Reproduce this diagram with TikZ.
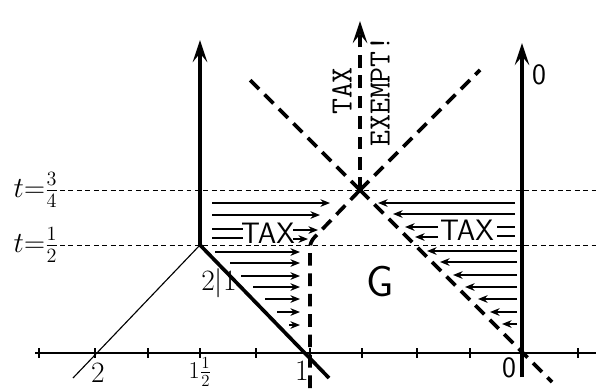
\documentclass[tikz,border=0pt]{standalone}
\usepackage{tikz}
\usetikzlibrary{arrows.meta,positioning}

\begin{document}
\begin{tikzpicture}[
  x=0.025cm, y=-0.025cm,
  every node/.style={align=center, inner sep=1pt},
  axisline/.style={line width=1.2pt},
  tickmark/.style={line width=0.9pt},
  worldline/.style={line width=2.6pt},
  thinline/.style={line width=0.8pt},
  border/.style={line width=2.6pt, dash pattern=on 9pt off 5.5pt},
  level/.style={line width=0.6pt, dash pattern=on 3.5pt off 2.5pt},
  flow/.style={-{Stealth[length=2.4mm,width=1.9mm]}, line width=1.1pt},
  bar/.style={line width=1.1pt},
  uparr/.style={-{Stealth[length=5.5mm,width=3.6mm,inset=2.2mm]}},
  num/.style={font=\fontsize{21}{23}\selectfont},
  tlbl/.style={font=\fontsize{22}{24}\selectfont, anchor=east},
  taxlbl/.style={font=\sffamily\fontsize{21}{23}\selectfont}
]
\useasboundingbox (0,0) rectangle (596,390);

\coordinate (kink) at (200,245);
\coordinate (cross) at (360,190);
\coordinate (orig) at (522,353);

% time levels
\node[tlbl] (tq) at (60,190) {$t{=}\frac{3}{4}$};
\node[tlbl] (th) at (60,245) {$t{=}\frac{1}{2}$};
\draw[level] (tq.east) -- (596,190);
\draw[level] (th.east) -- (596,245);

% axis
\draw[axisline] (35,353) -- (596,353);
\foreach \x in {39,95,148,200,256,310,362,417,470,522,578}
  \draw[tickmark] (\x,348) -- (\x,358);
\node[num] (ltwo) at (98,373) {2};
\node[num, font=\fontsize{18}{20}\selectfont, inner sep=0pt] (lhalf) at (200,372) {$1\frac{1}{2}$};
\node[num] (lone) at (302,371) {1};
\node[num, font=\sffamily\fontsize{21}{23}\selectfont] (lzero) at (509,368) {0};

% world lines
\draw[worldline, uparr] (kink) -- (200,40);
\draw[worldline] (kink) -- (329,378);
\draw[thinline] (kink) -- (73,378);
\draw[worldline, uparr] (522,377) -- (522,43);
\node[font=\sffamily\fontsize{21}{23}\selectfont] (ltop) at (539,75) {0};

% dashed boundary
\draw[border, rounded corners=4pt] (310,388) -- (310,242) -- (cross);
\draw[border] (cross) -- (250,80);
\draw[border] (cross) -- (480,70);
\draw[border] (cross) -- (552,382);
\draw[border, uparr] (cross) -- (360,21);
\node[font=\ttfamily\fontsize{22}{27}\selectfont, rotate=90] (exempt) at (361,91) {TAX\\EXEMPT!};

% taxed flow, left
\foreach \y/\b in {203/330, 215/320}
  \draw[flow] (212,\y) -- (\b,\y);
\node[taxlbl] (taxl) at (268,233) {TAX};
\draw[bar] (212,229) -- (243,229);
\draw[bar] (212,238) -- (243,238);
\draw[flow] (293,230) -- (318,230);
\draw[flow] (293,239) -- (308,239);
\foreach \y/\a in {252/215, 263/230, 276/241, 287/253, 299/265, 312/277, 325/289}
  \draw[flow] (\a,\y) -- (300,\y);

% taxed flow, right
\foreach \y/\b in {203/378, 214/393}
  \draw[flow] (515,\y) -- (\b,\y);
\node[taxlbl] (taxr) at (467,230) {TAX};
\draw[bar] (497,227) -- (515,227);
\draw[bar] (497,236) -- (515,236);
\draw[flow] (438,227) -- (405,227);
\draw[flow] (438,237) -- (415,237);
\foreach \y/\b in {251/427, 262/440, 275/453, 287/465, 299/478, 312/490, 324/502}
  \draw[flow] (517,\y) -- (\b,\y);

\node[font=\fontsize{21}{23}\selectfont] (ratio) at (219,283) {2$|$1};
\node[font=\sffamily\fontsize{31}{33}\selectfont] (gain) at (380,282) {G};

\end{tikzpicture}
\end{document}
